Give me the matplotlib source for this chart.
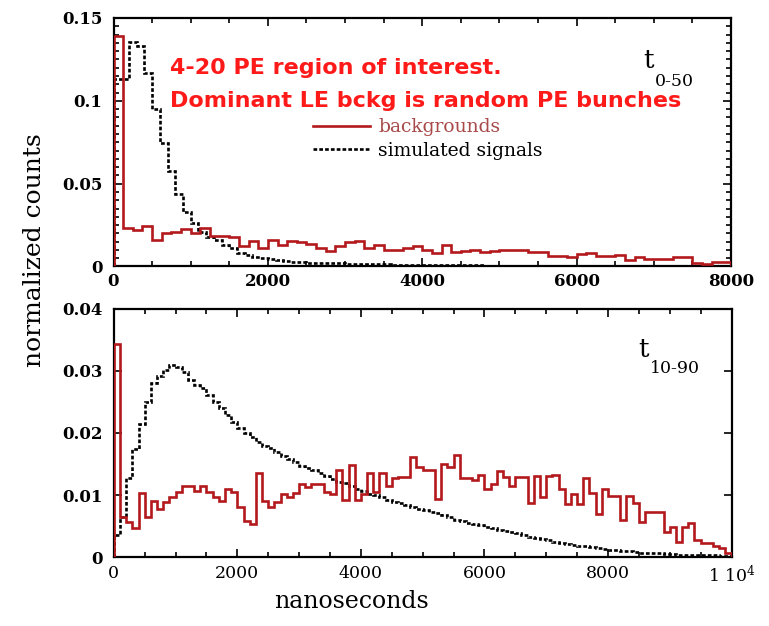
import numpy as np
import matplotlib
matplotlib.use("Agg")
import matplotlib.pyplot as plt
from matplotlib.ticker import MultipleLocator, FixedLocator, FixedFormatter

plt.rcParams['font.family'] = ['DejaVu Serif']
plt.rcParams['mathtext.fontset'] = 'dejavuserif'

# ---- t(0-50) panel: 100 ns bins (signal), 125 ns bins (backgrounds), 0-8000 ns
top_range = (0, 8000)
sig_top = [0.113, 0.113, 0.1355, 0.133, 0.117, 0.095, 0.0746, 0.0575, 0.044, 0.033,
           0.026, 0.021, 0.018, 0.016, 0.013, 0.011, 0.0083, 0.007, 0.006, 0.005,
           0.0045, 0.004, 0.0035, 0.003, 0.0027, 0.0024, 0.0022, 0.002, 0.002, 0.0019,
           0.0018, 0.0017, 0.0016, 0.0015, 0.0014, 0.0013, 0.0012, 0.0012, 0.0011, 0.0010,
           0.0010, 0.0009, 0.0009, 0.0008, 0.0008, 0.0007, 0.0007, 0.0007, 0.0006, 0.0006,
           0.0006, 0.0005, 0.0005, 0.0005, 0.0005, 0.0004, 0.0004, 0.0004, 0.0004, 0.0004,
           0.0003, 0.0003, 0.0003, 0.0003, 0.0003, 0.0003, 0.0003, 0.0003, 0.0003, 0.0003,
           0.0003, 0.0003, 0.0002, 0.0002, 0.0002, 0.0002, 0.0002, 0.0002, 0.0002, 0.0002]
bg_top = [0.139, 0.0232, 0.0218, 0.0242, 0.0162, 0.0202, 0.0206, 0.0226, 0.0202, 0.0232,
          0.0182, 0.0182, 0.0180, 0.0121, 0.0151, 0.0111, 0.0162, 0.0131, 0.0151, 0.0145,
          0.0135, 0.0111, 0.0091, 0.0121, 0.0145, 0.0151, 0.0111, 0.0131, 0.0101, 0.0101,
          0.0111, 0.0121, 0.0101, 0.0081, 0.0131, 0.0090, 0.0095, 0.0101, 0.0085, 0.0095,
          0.0101, 0.0098, 0.0098, 0.0085, 0.0085, 0.0065, 0.0065, 0.0055, 0.0075, 0.0080,
          0.0065, 0.0065, 0.0072, 0.0038, 0.0055, 0.0045, 0.0048, 0.0048, 0.0055, 0.0055,
          0.0020, 0.0018, 0.0030, 0.0030]

# ---- t(10-90) panel: 100 ns bins, 0-10000 ns
bot_range = (0, 10000)
sig_bot = [0.0035, 0.0065, 0.0127, 0.0175, 0.0215, 0.0250, 0.0280, 0.0292, 0.0301, 0.0309,
           0.0306, 0.0299, 0.0286, 0.0278, 0.0272, 0.0262, 0.0250, 0.0240, 0.0229, 0.0218,
           0.0208, 0.0200, 0.0194, 0.0186, 0.0179, 0.0176, 0.0170, 0.0163, 0.0158, 0.0153,
           0.0147, 0.0143, 0.0140, 0.0136, 0.0130, 0.0126, 0.0121, 0.0119, 0.0115, 0.0110,
           0.0106, 0.0102, 0.0100, 0.0097, 0.0092, 0.0089, 0.0087, 0.0084, 0.0081, 0.0078,
           0.0076, 0.0073, 0.0071, 0.0067, 0.0064, 0.0060, 0.0058, 0.0055, 0.0053, 0.0051,
           0.0049, 0.0047, 0.0044, 0.0042, 0.0040, 0.0038, 0.0035, 0.0033, 0.0031, 0.0029,
           0.0027, 0.0025, 0.0023, 0.0021, 0.0019, 0.0018, 0.0017, 0.0016, 0.0014, 0.0013,
           0.0012, 0.0011, 0.0010, 0.0009, 0.0008, 0.0007, 0.0007, 0.0006, 0.0006, 0.0005,
           0.0005, 0.0004, 0.0004, 0.0004, 0.0003, 0.0003, 0.0003, 0.0003, 0.0002, 0.0002]
bg_bot = [0.0344, 0.0065, 0.0056, 0.0047, 0.0104, 0.0064, 0.0091, 0.0078, 0.0089, 0.0096,
          0.0105, 0.0114, 0.0114, 0.0106, 0.0114, 0.0105, 0.0096, 0.0090, 0.0109, 0.0105,
          0.0081, 0.0058, 0.0053, 0.0135, 0.0090, 0.0080, 0.0089, 0.0102, 0.0096, 0.0103,
          0.0117, 0.0113, 0.0117, 0.0117, 0.0105, 0.0102, 0.0140, 0.0092, 0.0148, 0.0092,
          0.0102, 0.0135, 0.0105, 0.0136, 0.0114, 0.0127, 0.0129, 0.0129, 0.0161, 0.0145,
          0.0140, 0.0140, 0.0094, 0.0150, 0.0145, 0.0164, 0.0127, 0.0127, 0.0125, 0.0132,
          0.0110, 0.0118, 0.0139, 0.0129, 0.0114, 0.0129, 0.0129, 0.0087, 0.0130, 0.0097,
          0.0130, 0.0132, 0.0110, 0.0086, 0.0102, 0.0086, 0.0127, 0.0103, 0.0070, 0.0109,
          0.0099, 0.0099, 0.0059, 0.0099, 0.0087, 0.0057, 0.0073, 0.0073, 0.0073, 0.0040,
          0.0048, 0.0024, 0.0048, 0.0055, 0.0027, 0.0022, 0.0022, 0.0018, 0.0014, 0.0006]

top_yticks = [0, 0.05, 0.1, 0.15]
top_yticklabels = ['0', '0.05', '0.1', '0.15']
top_xticks = [0, 2000, 4000, 6000, 8000]
top_xticklabels = ['0', '2000', '4000', '6000', '8000']
bot_yticks = [0, 0.01, 0.02, 0.03, 0.04]
bot_yticklabels = ['0', '0.01', '0.02', '0.03', '0.04']
bot_xticks = [0, 2000, 4000, 6000, 8000, 10000]
bot_xticklabels = ['0', '2000', '4000', '6000', '8000', r'1 10$^{4}$']

RED = '#b3191c'
LABEL_RED = '#a84a4a'
LW = 1.9
DASH = (1.4, 0.8)

fig = plt.figure(figsize=(7.69, 6.26), dpi=100)
W, H = 769, 626
ax1 = fig.add_axes([113.5 / W, 1 - 266.5 / H, 617.5 / W, 248.5 / H])
ax2 = fig.add_axes([113.8 / W, 1 - 557 / H, 617.7 / W, 248 / H])


def edges(vals, rng):
    return np.linspace(rng[0], rng[1], len(vals) + 1)


# histograms
ax1.stairs(bg_top, edges(bg_top, top_range), color=RED, lw=LW, label='backgrounds', zorder=3)
ax1.stairs(sig_top, edges(sig_top, top_range), color='black', lw=LW,
           linestyle=(0, DASH), label='simulated signals', zorder=2)
ax2.stairs(bg_bot, edges(bg_bot, bot_range), color=RED, lw=LW, zorder=3)
ax2.stairs(sig_bot, edges(sig_bot, bot_range), color='black', lw=LW,
           linestyle=(0, DASH), zorder=2)

for ax in (ax1, ax2):
    for s in ax.spines.values():
        s.set_linewidth(1.6)
    ax.tick_params(which='both', direction='in', top=True, right=True,
                   width=1.2, colors='black')
    ax.tick_params(which='major', length=6, labelsize=12)
    ax.tick_params(which='minor', length=3.5)

ax1.set_xlim(*top_range)
ax1.set_ylim(0, 0.15)
ax1.yaxis.set_major_locator(FixedLocator(top_yticks))
ax1.yaxis.set_major_formatter(FixedFormatter(top_yticklabels))
ax1.yaxis.set_minor_locator(MultipleLocator(0.005))
ax1.xaxis.set_major_locator(FixedLocator(top_xticks))
ax1.xaxis.set_major_formatter(FixedFormatter(top_xticklabels))
ax1.xaxis.set_minor_locator(MultipleLocator(500))
ax1.tick_params(axis='y', pad=8)
ax1.tick_params(axis='x', pad=5)
for t in ax1.get_yticklabels() + ax1.get_xticklabels():
    t.set_fontweight('bold')

ax2.set_xlim(*bot_range)
ax2.set_ylim(0, 0.04)
ax2.yaxis.set_major_locator(FixedLocator(bot_yticks))
ax2.yaxis.set_major_formatter(FixedFormatter(bot_yticklabels))
ax2.xaxis.set_major_locator(FixedLocator(bot_xticks))
ax2.xaxis.set_major_formatter(FixedFormatter(bot_xticklabels))
ax2.xaxis.set_minor_locator(MultipleLocator(500))
ax2.tick_params(axis='y', pad=8)
ax2.tick_params(axis='x', pad=6, labelsize=12.5)
for t in ax2.get_yticklabels():
    t.set_fontweight('bold')

# panel tags
fig.text(643 / W, 1 - 68 / H, 't', fontsize=19, va='baseline', ha='left')
fig.text(655 / W, 1 - 86 / H, '0-50', fontsize=12.5, va='baseline', ha='left')
fig.text(638 / W, 1 - 357 / H, 't', fontsize=19, va='baseline', ha='left')
fig.text(650 / W, 1 - 373 / H, '10-90', fontsize=12.5, va='baseline', ha='left')

# legend
leg = ax1.legend(loc='upper left', bbox_to_anchor=(0.323, 0.596), frameon=False,
                 fontsize=13.5, handlelength=3.05, handletextpad=0.43,
                 labelspacing=0.3, borderpad=0, borderaxespad=0)
leg.get_texts()[0].set_color(LABEL_RED)

# annotation
fig.text(170 / W, 1 - 68 / H, '4-20 PE region of interest.', color='#ff1a1a',
         fontsize=16, fontweight='bold', family='DejaVu Sans', va='center', ha='left')
fig.text(170 / W, 1 - 101 / H, 'Dominant LE bckg is random PE bunches', color='#ff1a1a',
         fontsize=16, fontweight='bold', family='DejaVu Sans', va='center', ha='left')

# axis titles
fig.text(35 / W, 1 - 250 / H, 'normalized counts', rotation=90, fontsize=18,
         va='center', ha='center')
fig.text(351 / W, 1 - 602 / H, 'nanoseconds', fontsize=17, va='center', ha='center')

fig.savefig('out.png', dpi=100)
